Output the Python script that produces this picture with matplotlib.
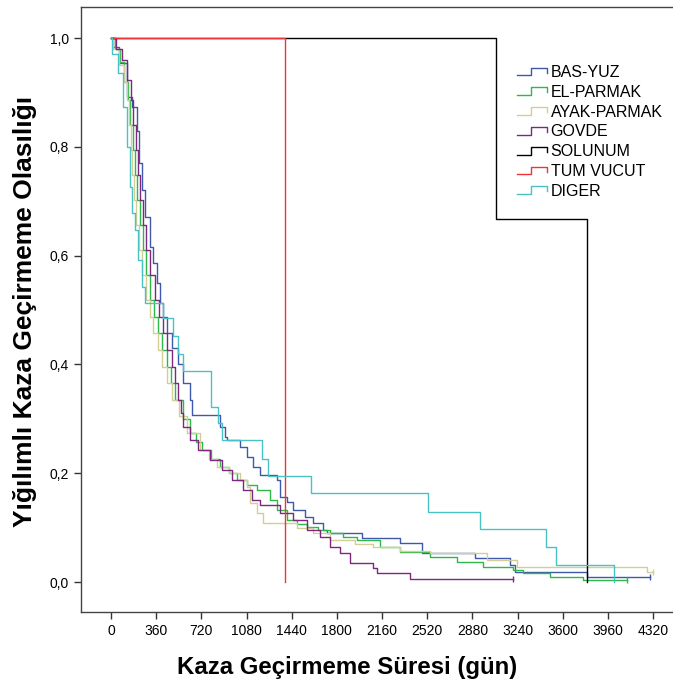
import numpy as np
import matplotlib
matplotlib.use('Agg')
import matplotlib.pyplot as plt
from matplotlib.legend_handler import HandlerBase
from matplotlib.lines import Line2D

plt.rcParams['font.family'] = ['Liberation Sans', 'DejaVu Sans']

# Kaplan-Meier curves: day of each drop, survival after it
bas_yuz_t = [0, 16, 60, 128, 167, 207, 223, 247, 271, 311, 335, 367, 391, 414, 446, 490, 534, 574,
             630, 646, 869, 909, 925, 1028, 1084, 1132, 1188, 1323, 1347, 1403, 1451, 1546, 1610,
             1690, 1722, 2001, 2304, 2479, 2901, 3180, 3220, 3794, 4296]
bas_yuz_s = [1.0, 0.983, 0.954, 0.892, 0.873, 0.83, 0.77, 0.72, 0.671, 0.616, 0.586, 0.55, 0.513,
             0.487, 0.458, 0.43, 0.40, 0.366, 0.335, 0.307, 0.285, 0.267, 0.261, 0.248, 0.23, 0.211,
             0.197, 0.188, 0.156, 0.147, 0.132, 0.12, 0.108, 0.096, 0.09, 0.081, 0.072, 0.053, 0.044,
             0.031, 0.018, 0.009, 0.009]

el_parmak_t = [0, 30, 70, 105, 136, 155, 175, 191, 207, 231, 255, 283, 311, 343, 375, 410, 446, 478,
               510, 570, 630, 680, 725, 800, 869, 940, 1004, 1080, 1164, 1267, 1323, 1403, 1480,
               1562, 1650, 1746, 1850, 1961, 2144, 2304, 2543, 2758, 2965, 3204, 3284, 3499, 3762,
               4113]
el_parmak_s = [1.0, 0.98, 0.955, 0.92, 0.886, 0.84, 0.794, 0.748, 0.702, 0.656, 0.61, 0.564, 0.518,
               0.488, 0.458, 0.427, 0.395, 0.365, 0.335, 0.30, 0.274, 0.258, 0.243, 0.227, 0.211,
               0.20, 0.188, 0.178, 0.169, 0.151, 0.132, 0.114, 0.107, 0.101, 0.095, 0.09, 0.083,
               0.077, 0.064, 0.055, 0.046, 0.037, 0.028, 0.022, 0.017, 0.009, 0.004, 0.004]

ayak_parmak_t = [0, 20, 60, 100, 128, 143, 159, 171, 183, 203, 223, 251, 279, 307, 335, 371, 407,
                 446, 486, 546, 606, 709, 780, 845, 940, 1028, 1084, 1108, 1164, 1212, 1483, 1610,
                 1746, 1941, 2088, 2304, 2543, 2997, 3236, 4272, 4320]
ayak_parmak_s = [1.0, 0.98, 0.95, 0.92, 0.886, 0.84, 0.794, 0.748, 0.702, 0.656, 0.61, 0.564, 0.518,
                 0.488, 0.458, 0.427, 0.395, 0.365, 0.335, 0.305, 0.274, 0.243, 0.227, 0.211, 0.20,
                 0.188, 0.175, 0.145, 0.127, 0.108, 0.099, 0.09, 0.077, 0.07, 0.064, 0.058, 0.053,
                 0.040, 0.028, 0.018, 0.018]

govde_t = [0, 40, 88, 128, 159, 179, 199, 215, 231, 255, 279, 311, 351, 383, 414, 450, 486, 510,
           534, 554, 574, 630, 693, 789, 885, 964, 1052, 1124, 1188, 1347, 1451, 1562, 1666, 1746,
           1825, 1905, 2088, 2120, 2383, 3204]
govde_s = [1.0, 0.98, 0.96, 0.923, 0.886, 0.84, 0.794, 0.748, 0.702, 0.656, 0.61, 0.564, 0.518,
           0.488, 0.458, 0.427, 0.395, 0.365, 0.335, 0.31, 0.285, 0.261, 0.243, 0.224, 0.206, 0.188,
           0.169, 0.151, 0.142, 0.127, 0.114, 0.096, 0.083, 0.064, 0.053, 0.035, 0.026, 0.017,
           0.005, 0.005]

solunum_t = [0, 3069, 3794]
solunum_s = [1.0, 0.667, 0.0]

tum_vucut_t = [0, 1390]
tum_vucut_s = [1.0, 0.0]

diger_t = [0, 8, 56, 96, 128, 151, 167, 191, 215, 247, 271, 414, 494, 534, 574, 797, 853, 885,
           1204, 1251, 1594, 2527, 2941, 3467, 3547, 4009]
diger_s = [1.0, 0.97, 0.935, 0.873, 0.80, 0.726, 0.678, 0.647, 0.592, 0.542, 0.513, 0.485, 0.452,
           0.42, 0.388, 0.322, 0.292, 0.261, 0.226, 0.195, 0.163, 0.129, 0.097, 0.064, 0.031, 0.0]

groups = ['BAS-YUZ', 'EL-PARMAK', 'AYAK-PARMAK', 'GOVDE', 'SOLUNUM', 'TUM VUCUT', 'DIGER']
times = [bas_yuz_t, el_parmak_t, ayak_parmak_t, govde_t, solunum_t, tum_vucut_t, diger_t]
survs = [bas_yuz_s, el_parmak_s, ayak_parmak_s, govde_s, solunum_s, tum_vucut_s, diger_s]
colors = ['#3e58ac', '#2eb848', '#d3ce97', '#7c287d', '#000000', '#ef3338', '#48c2c5']
censored_end = [True, True, True, True, False, False, False]

x_ticks = list(range(0, 4321, 360))
y_ticks = [0.0, 0.2, 0.4, 0.6, 0.8, 1.0]


class StepHandler(HandlerBase):
    def create_artists(self, legend, orig_handle, xdescent, ydescent, width, height, fontsize, trans):
        x0, w = -xdescent, width
        y0, h = -ydescent, height
        xs = [x0, x0 + 0.45 * w, x0 + 0.45 * w, x0 + w, x0 + w]
        ys = [y0 + 0.15 * h, y0 + 0.15 * h, y0 + 0.85 * h, y0 + 0.85 * h, y0 + 0.4 * h]
        ln = Line2D(xs, ys, color=orig_handle.get_color(), lw=1.0, transform=trans)
        return [ln]


fig = plt.figure(figsize=(6.73, 6.84), dpi=100)
ax = fig.add_axes([81 / 673, 1 - 612 / 684, 1 - 81 / 673, (612 - 7) / 684])

handles = []
for name, t, s, c, cens in zip(groups, times, survs, colors, censored_end):
    line, = ax.step(t, s, where='post', color=c, lw=1.0, label=name)
    if cens:
        ax.plot(t[-1], s[-1], marker='|', ms=4, mew=1.0, color=c)
    handles.append(line)

ax.set_xlim(-239, 4479)
ax.set_ylim(-0.055, 1.057)
ax.set_xticks(x_ticks)
ax.set_xticklabels([str(v) for v in x_ticks], fontsize=10)
ax.set_yticks(y_ticks)
ax.set_yticklabels([f'{v:.1f}'.replace('.', ',') for v in y_ticks], fontsize=10)
ax.tick_params(direction='out', length=5, width=1.0, color='#333333')

for side in ['left', 'bottom', 'top']:
    ax.spines[side].set_color('#444444')
    ax.spines[side].set_linewidth(1.0)
ax.spines['right'].set_visible(False)

ax.set_xlabel('Kaza Geçirmeme Süresi (gün)', fontsize=17.3, fontweight='bold')
ax.set_ylabel('Yığılımlı Kaza Geçirmeme Olasılığı', fontsize=19, fontweight='bold')
ax.xaxis.set_label_coords((347 - 81) / 592, -(656 - 612) / 605)
ax.yaxis.set_label_coords(-(81 - 37) / 592, (612 - 311) / 605)

ax.legend(handles, groups, loc='upper left', bbox_to_anchor=(0.7365, 0.904), frameon=False,
          fontsize=11.5, handlelength=1.9, handletextpad=0.2, labelspacing=0.30, borderpad=0,
          borderaxespad=0, handler_map={Line2D: StepHandler()})

plt.savefig('out.png', dpi=100)
